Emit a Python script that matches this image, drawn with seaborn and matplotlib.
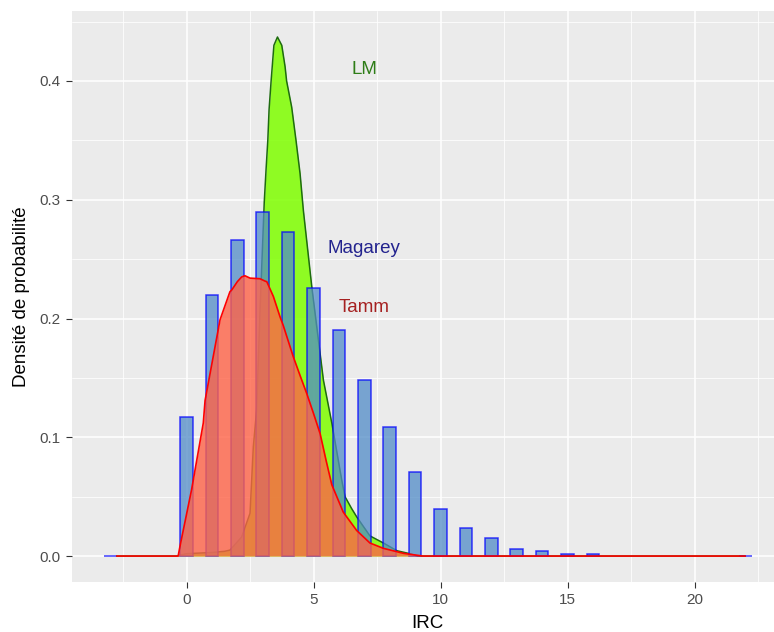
import numpy as np
import pandas as pd
import matplotlib
matplotlib.use("Agg")
import matplotlib.pyplot as plt
import seaborn as sns

# Magarey: observed IRC values (integers), histogram densities with binwidth 0.5
irc_values = [-3, 0, 1, 2, 3, 4, 5, 6, 7, 8, 9, 10, 11, 12, 13, 14, 15, 16, 22]
magarey_density = [0.0, 0.117, 0.220, 0.266, 0.290, 0.273, 0.226, 0.190, 0.148,
                   0.109, 0.071, 0.040, 0.024, 0.015, 0.006, 0.004, 0.002, 0.002, 0.0]

# LM: model density curve
lm_x = [-2.75, -0.4, 0.0, 1.0, 1.5, 1.71, 2.17, 2.5, 2.63, 2.76, 2.9, 3.06, 3.13,
        3.2, 3.25, 3.33, 3.44, 3.58, 3.75, 3.88, 3.94, 4.14, 4.31, 4.47, 4.6,
        4.93, 5.39, 5.72, 6.11, 6.24, 6.5, 6.7, 7.22, 7.75, 8.28, 8.73, 9.1, 22.0]
lm_y = [0.0, 0.0, 0.002, 0.003, 0.004, 0.005, 0.016, 0.036, 0.092, 0.123, 0.210,
        0.298, 0.325, 0.350, 0.376, 0.400, 0.430, 0.437, 0.430, 0.412, 0.400,
        0.378, 0.350, 0.322, 0.291, 0.227, 0.148, 0.112, 0.064, 0.050, 0.040,
        0.033, 0.017, 0.011, 0.0045, 0.0023, 0.0, 0.0]

# Tamm: model density curve
tamm_x = [-2.75, -0.33, -0.26, 0.2, 0.66, 0.73, 1.32, 1.71, 1.78, 2.0, 2.17, 2.3,
          2.5, 2.89, 3.09, 3.16, 3.42, 3.68, 3.81, 4.2, 4.47, 4.73, 5.0, 5.26,
          5.5, 5.72, 6.17, 6.7, 7.22, 7.75, 8.54, 9.3, 22.0]
tamm_y = [0.0, 0.0, 0.008, 0.056, 0.112, 0.131, 0.199, 0.2226, 0.224, 0.231,
          0.235, 0.236, 0.234, 0.2335, 0.2315, 0.231, 0.2185, 0.2015, 0.194,
          0.168, 0.152, 0.137, 0.120, 0.103, 0.080, 0.060, 0.037, 0.0215,
          0.011, 0.0065, 0.0023, 0.0, 0.0]

labels = ["LM", "Magarey", "Tamm"]
label_x = [7.0, 7.0, 7.0]
label_y = [0.410, 0.259, 0.209]
label_colors = ["#2E7D17", "#23238E", "#A52020"]

bars = pd.DataFrame({"IRC": irc_values, "density": magarey_density})
lm = pd.DataFrame({"IRC": lm_x, "density": lm_y})
tamm = pd.DataFrame({"IRC": tamm_x, "density": tamm_y})

sns.set_theme(style="darkgrid", rc={
    "axes.facecolor": "#EBEBEB",
    "grid.color": "white",
    "axes.edgecolor": "#EBEBEB",
})
plt.rcParams["font.family"] = ["Liberation Sans", "DejaVu Sans"]

fig = plt.figure(figsize=(7.74, 6.32), dpi=100)
ax = fig.add_axes([0.0925, 0.0791, 0.9205, 0.9035])

# LM density area
ax.fill_between(lm["IRC"], lm["density"], color="#7FFF00", alpha=0.85,
                linewidth=0, zorder=2)
sns.lineplot(data=lm, x="IRC", y="density", color="#1E6B10", linewidth=1.1,
             ax=ax, zorder=3, sort=False)

# Magarey histogram bars
sns.barplot(data=bars, x="IRC", y="density", native_scale=True, width=0.5,
            color="#3D8BDB", alpha=0.75, edgecolor="blue", linewidth=1.1,
            ax=ax)
for p in ax.patches:
    p.set_edgecolor((0, 0, 1, 0.9))
    p.set_zorder(4)

# Tamm density area, drawn over the bars
ax.fill_between(tamm["IRC"], tamm["density"], color="tomato", alpha=0.8,
                linewidth=0, zorder=5)
sns.lineplot(data=tamm, x="IRC", y="density", color="red", linewidth=1.2,
             ax=ax, zorder=6, sort=False)

for txt, tx, ty, tc in zip(labels, label_x, label_y, label_colors):
    ax.text(tx, ty, txt, color=tc, fontsize=13.5, ha="center", va="center",
            zorder=7)

ax.set_xlim(-4.525, 23.525)
ax.set_ylim(-0.02185, 0.4589)
ax.set_xticks([0, 5, 10, 15, 20])
ax.set_xticks([-2.5, 2.5, 7.5, 12.5, 17.5, 22.5], minor=True)
ax.set_yticks([0.0, 0.1, 0.2, 0.3, 0.4])
ax.set_yticks([0.05, 0.15, 0.25, 0.35, 0.45], minor=True)
ax.set_yticklabels(["0.0", "0.1", "0.2", "0.3", "0.4"])
ax.grid(which="major", color="white", linewidth=1.1)
ax.grid(which="minor", color="white", linewidth=0.55)
ax.tick_params(axis="both", which="major", length=4.5, width=0.8,
               color="#333333", labelsize=11, labelcolor="#4D4D4D", pad=3.5,
               bottom=True, left=True)
ax.tick_params(axis="both", which="minor", length=0)
for s in ax.spines.values():
    s.set_visible(False)
ax.set_xlabel("IRC", fontsize=13.5, color="black", labelpad=6)
ax.set_ylabel("Densité de probabilité", fontsize=13.5, color="black", labelpad=7)

fig.savefig("out.png", dpi=100)
